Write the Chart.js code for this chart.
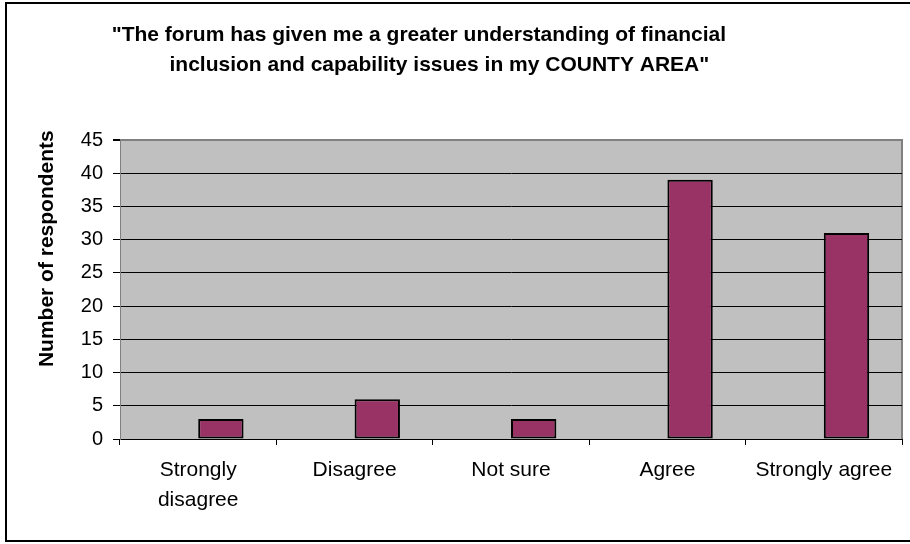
<!DOCTYPE html>
<html>
<head>
<meta charset="utf-8">
<script src="https://cdn.jsdelivr.net/npm/chart.js@4.4.0/dist/chart.umd.min.js"></script>
<style>
  body { margin: 0; background: #fff; }
  canvas { display: block; }
</style>
</head>
<body>
<canvas id="chart" width="910" height="544"></canvas>
<script>
// survey answers
const categories = [["Strongly", "disagree"], "Disagree", "Not sure", "Agree", "Strongly agree"];
const respondents = [3, 6, 3, 39, 31];
// empty first series, keeps the bars to the right of each category centre
const emptySeries = [null, null, null, null, null];

const yMin = 0;
const yMax = 45;
const yStep = 5;

// trailing / leading spaces nudge the centred text off the middle
const titleLines = [
  "\"The forum has given me a greater understanding of financial           ",
  "inclusion and capability issues in my COUNTY AREA\"    ",
];
const yTitle = "              Number of respondents";

const FONT = "'Liberation Sans', Arial, sans-serif";

// grey plot area, its top/right edge and the outer frame
const plotFrame = {
  id: "plotFrame",
  beforeDraw(chart) {
    const { ctx, chartArea: a } = chart;
    ctx.save();
    ctx.fillStyle = "#c0c0c0";
    ctx.fillRect(a.left, a.top, a.width, a.height);
    ctx.strokeStyle = "#808080";
    ctx.lineWidth = 2;
    ctx.beginPath();
    ctx.moveTo(a.left, a.top);
    ctx.lineTo(a.right, a.top);
    ctx.lineTo(a.right, a.bottom);
    ctx.stroke();
    ctx.restore();
  },
  afterDraw(chart) {
    const ctx = chart.ctx;
    ctx.save();
    ctx.strokeStyle = "#000";
    ctx.lineWidth = 2;
    ctx.strokeRect(6, 3, 940, 538);
    ctx.restore();
  },
};

new Chart(document.getElementById("chart"), {
  type: "bar",
  data: {
    labels: categories,
    datasets: [
      { data: emptySeries, backgroundColor: "#993366" },
      {
        data: respondents,
        backgroundColor: "#993366",
        borderColor: "#000",
        borderWidth: 2,
        borderSkipped: false,
      },
    ],
  },
  options: {
    responsive: false,
    animation: false,
    categoryPercentage: 0.58,
    barPercentage: 1,
    layout: { padding: { left: 0, right: 8, top: 0, bottom: 0 } },
    plugins: {
      legend: { display: false },
      tooltip: { enabled: false },
      title: {
        display: true,
        text: titleLines,
        color: "#000",
        font: { family: FONT, size: 21, weight: "bold", lineHeight: "30px" },
        padding: { top: 20, bottom: 60 },
      },
    },
    scales: {
      x: {
        grid: {
          offset: true,
          drawOnChartArea: false,
          tickLength: 6,
          tickColor: "#000",
        },
        border: { color: "#000", width: 1 },
        ticks: {
          color: "#000",
          padding: 10,
          maxRotation: 0,
          font: { family: FONT, size: 21, lineHeight: "30px" },
        },
        afterFit(scale) {
          scale.height = 105;
        },
      },
      y: {
        min: yMin,
        max: yMax,
        grid: {
          color: (c) => (c.tick && c.tick.value === yMax ? "#808080" : "#000"),
          lineWidth: (c) => (c.tick && c.tick.value === yMax ? 2 : 1),
          tickLength: 7,
          tickColor: "#000",
        },
        border: { color: "#808080", width: 1 },
        ticks: {
          stepSize: yStep,
          color: "#000",
          padding: 10,
          font: { family: FONT, size: 20 },
        },
        title: {
          display: true,
          text: yTitle,
          color: "#000",
          font: { family: FONT, size: 21, weight: "bold" },
          padding: { top: 35, bottom: 0 },
        },
        afterFit(scale) {
          scale.width = 120;
        },
      },
    },
  },
  plugins: [plotFrame],
});
</script>
</body>
</html>
